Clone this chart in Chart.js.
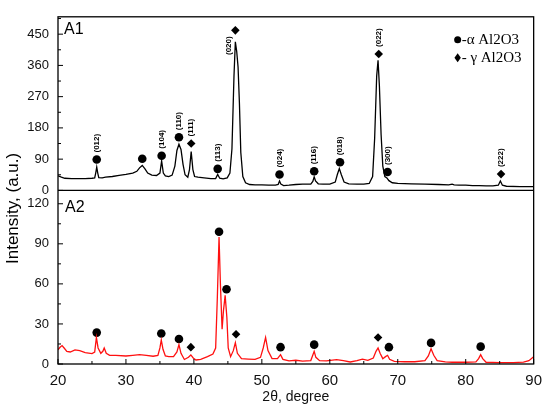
<!DOCTYPE html>
<html>
<head>
<meta charset="utf-8">
<script src="https://cdn.jsdelivr.net/npm/chart.js@4.4.1/dist/chart.umd.min.js"></script>
<style>
  html, body { margin: 0; padding: 0; background: #fff; }
  #wrap { width: 550px; height: 409px; }
</style>
</head>
<body>
<div id="wrap"><canvas id="xrd"></canvas></div>
<script>
// A1 trace (black)
const a1X = [20.0, 20.5, 21.0, 22.0, 23.0, 24.0, 25.0, 25.4, 25.55, 25.7, 25.85, 26.0, 26.5, 27.0, 28.0, 29.0, 30.0, 31.0, 31.6, 32.0,
    32.4, 32.8, 33.2, 33.8, 34.5, 35.0, 35.25, 35.5, 35.8, 36.3, 36.8, 37.2, 37.5, 37.8, 38.1, 38.4, 38.7, 39.1, 39.35, 39.6,
    39.85, 40.1, 40.6, 41.5, 42.5, 43.2, 43.5, 43.8, 44.3, 44.9, 45.3, 45.6, 45.9, 46.1, 46.3, 46.5, 46.7, 46.9, 47.2, 47.6,
    48.2, 49, 50, 51, 52, 52.4, 52.6, 52.8, 53.2, 54, 55, 56, 57.2, 57.5, 57.7, 57.9, 58.3, 59, 60, 60.8,
    61.1, 61.4, 61.7, 62.1, 62.8, 64, 65, 65.8, 66.3, 66.6, 66.9, 67.1, 67.3, 67.55, 67.8, 68.1, 68.4, 68.7, 69.2, 70,
    72, 74, 76, 77.5, 78, 78.3, 79, 80, 81, 82, 83, 84, 84.8, 85.1, 85.4, 86, 88, 90]
const a1Y = [42, 38, 35, 34, 34, 34, 35, 36, 50, 67, 50, 37, 36, 38, 40, 43, 46, 50, 55, 65,
    72, 62, 50, 44, 43, 50, 85, 50, 42, 40, 44, 70, 115, 133, 118, 75, 45, 38, 60, 112,
    60, 40, 38, 36, 34, 34, 46, 35, 33, 36, 50, 120, 330, 428, 400, 355, 250, 110, 40, 22,
    17, 16, 16, 15, 15, 17, 27, 18, 14, 15, 17, 18, 18, 26, 39, 27, 19, 18, 18, 24,
    45, 63, 45, 24, 19, 18, 18, 20, 40, 150, 330, 375, 300, 160, 70, 40, 36, 28, 22, 20,
    19, 18, 17, 16, 18, 16, 15, 15, 14, 14, 13, 13, 15, 27, 15, 12, 11, 11]

// A2 trace (red)
const a2X = [20.0, 20.3, 20.6, 20.9, 21.3, 21.8, 22.5, 23.2, 24, 25, 25.4, 25.65, 25.9, 26.3, 26.6, 26.8, 27.1, 27.6, 28.5, 30,
    31, 32, 33, 34, 34.7, 35.0, 35.2, 35.45, 35.8, 36.3, 37.0, 37.5, 37.8, 38.1, 38.6, 39.2, 39.55, 39.9, 40.3, 41,
    42, 42.8, 43.2, 43.45, 43.7, 43.9, 44.15, 44.35, 44.6, 44.85, 45.05, 45.4, 45.8, 46.1, 46.4, 47, 48, 49, 49.8, 50.2,
    50.55, 50.9, 51.5, 52.3, 52.75, 53.1, 54, 55, 56, 57.2, 57.45, 57.7, 57.95, 58.5, 59.5, 61, 62, 63, 64, 64.8,
    65.6, 66.4, 66.8, 67.1, 67.4, 67.8, 68.2, 68.5, 68.8, 69.5, 71, 72.5, 74, 74.5, 74.9, 75.3, 75.8, 77, 78, 80,
    81.5, 81.9, 82.2, 82.5, 83, 85, 87, 88.5, 89.3, 90]
const a2Y = [10.7, 12.5, 13.8, 12, 9.5, 9, 10.5, 10, 8.5, 7.8, 9, 19.9, 12, 8, 9.5, 12, 8, 6.5, 6.5, 6,
    6.5, 7, 6.5, 5.8, 6.5, 12, 18, 11, 6, 5.5, 5.5, 9, 14.5, 8, 3.4, 5, 6.8, 4.5, 3, 3.5,
    5.5, 7.5, 12, 50, 95, 60, 26, 40, 51.4, 35, 12, 5.5, 10, 16, 8, 4, 3.7, 3.5, 5, 12,
    19.9, 10, 4, 4, 7, 3.5, 2.4, 2.8, 2.2, 2.6, 6, 9.5, 5, 2.5, 2.4, 3.3, 2.5, 1.5, 2.5, 3.7,
    2.8, 4.5, 9.5, 12, 8, 4, 5.5, 6.5, 3.5, 2, 1.7, 1.7, 2.5, 6, 11.4, 6.5, 2.5, 1.6, 1.3, 1.3,
    1.6, 4, 7, 4, 1.3, 1.1, 1, 1.4, 2.5, 5.5]

// phase markers: 'a' = alpha Al2O3 (circle), 'g' = gamma Al2O3 (diamond)
const a1MarkX = [25.7, 32.4, 35.25, 37.8, 39.6, 43.5, 46.1, 52.6, 57.7, 61.5, 67.2, 68.5, 85.2]
const a1MarkY = [89, 91, 100, 153, 135, 62, 461, 46, 55, 81, 393, 53, 47]
const a1Phase = ['a', 'a', 'a', 'a', 'g', 'a', 'g', 'a', 'a', 'a', 'g', 'a', 'g']
const a1Hkl = ['(012)', '', '(104)', '(110)', '(111)', '(113)', '(020)', '(024)', '(116)', '(018)', '(022)', '(300)', '(222)']

const a2MarkX = [25.7, 35.2, 37.8, 39.55, 43.7, 44.8, 46.2, 52.75, 57.7, 67.1, 68.7, 74.9, 82.2]
const a2MarkY = [23.5, 22.8, 18.7, 12.6, 99, 56, 22.3, 12.6, 14.5, 19.9, 12.6, 15.8, 13]
const a2Phase = ['a', 'a', 'a', 'g', 'a', 'a', 'g', 'a', 'a', 'g', 'a', 'a', 'a']

const xTicks = [20, 30, 40, 50, 60, 70, 80, 90]
const topTicks = [0, 90, 180, 270, 360, 450]
const botTicks = [0, 30, 60, 90, 120]
const legendItems = ['-α Al2O3', '- γ Al2O3']

const toPoints = (xs, ys) => xs.map((x, i) => ({ x: x, y: ys[i] }))

function markerSet(xs, ys, phases, want, axis) {
    let pts = []
    xs.forEach((x, i) => {
        if (phases[i] === want) pts.push({ x: x, y: ys[i] })
    })
    return {
        data: pts,
        yAxisID: axis,
        showLine: false,
        pointStyle: want === 'a' ? 'circle' : 'rectRot',
        pointRadius: 4.3,
        pointBackgroundColor: '#000',
        pointBorderColor: '#000',
        pointBorderWidth: 0
    }
}

const tickFont = { family: 'Liberation Sans, Arial, sans-serif', size: 13 }

// frame, inward ticks, peak labels, legend and y title
const decor = {
    id: 'decor',
    afterDatasetsDraw(chart) {
        const ctx = chart.ctx
        const xs = chart.scales.x
        const yt = chart.scales.yTop
        const yb = chart.scales.yBot
        const area = chart.chartArea
        ctx.save()
        ctx.strokeStyle = '#000'
        ctx.lineWidth = 1.3
        ctx.strokeRect(area.left, area.top, area.right - area.left, area.bottom - area.top)
        ctx.beginPath()
        ctx.moveTo(area.left, yt.bottom)
        ctx.lineTo(area.right, yt.bottom)
        ctx.stroke()

        ctx.lineWidth = 1
        const drawY = (scale, vals) => {
            const step = vals[1] - vals[0]
            vals.forEach(v => {
                let p = scale.getPixelForValue(v)
                ctx.beginPath(); ctx.moveTo(area.left, p); ctx.lineTo(area.left + 5, p); ctx.stroke()
                let m = v + step / 2
                if (m < scale.max) {
                    p = scale.getPixelForValue(m)
                    ctx.beginPath(); ctx.moveTo(area.left, p); ctx.lineTo(area.left + 3, p); ctx.stroke()
                }
            })
        }
        drawY(yt, topTicks)
        drawY(yb, botTicks)
        const xstep = xTicks[1] - xTicks[0]
        xTicks.forEach(v => {
            let p = xs.getPixelForValue(v)
            ctx.beginPath(); ctx.moveTo(p, area.bottom); ctx.lineTo(p, area.bottom - 5); ctx.stroke()
            let m = v + xstep / 2
            if (m < xs.max) {
                p = xs.getPixelForValue(m)
                ctx.beginPath(); ctx.moveTo(p, area.bottom); ctx.lineTo(p, area.bottom - 3); ctx.stroke()
            }
        })

        // hkl labels above the A1 markers
        ctx.fillStyle = '#000'
        ctx.font = 'bold 8px Liberation Sans, Arial, sans-serif'
        ctx.textBaseline = 'middle'
        a1Hkl.forEach((t, i) => {
            if (!t) return
            const px = xs.getPixelForValue(a1MarkX[i])
            const py = yt.getPixelForValue(a1MarkY[i])
            const w = ctx.measureText(t).width
            ctx.save()
            if (py - 7 - w < area.top) {
                ctx.translate(px - 7, py + 6)
                ctx.rotate(-Math.PI / 2)
                ctx.textAlign = 'right'
            } else {
                ctx.translate(px, py - 7)
                ctx.rotate(-Math.PI / 2)
                ctx.textAlign = 'left'
            }
            ctx.fillText(t, 0, 0)
            ctx.restore()
        })

        // panel names
        ctx.font = '16px Liberation Sans, Arial, sans-serif'
        ctx.textAlign = 'left'
        ctx.textBaseline = 'top'
        ctx.fillText('A1', area.left + 6, yt.top + 5)
        ctx.fillText('A2', area.left + 7, yb.top + 9)

        // legend
        ctx.font = '15px Liberation Serif, Times New Roman, serif'
        ctx.textBaseline = 'middle'
        const lx = area.right - 76
        legendItems.forEach((t, i) => {
            const ly = area.top + 23 + i * 18
            ctx.beginPath()
            if (i === 0) {
                ctx.arc(lx, ly, 3.5, 0, Math.PI * 2)
            } else {
                ctx.moveTo(lx, ly - 4.5); ctx.lineTo(lx + 3.2, ly); ctx.lineTo(lx, ly + 4.5); ctx.lineTo(lx - 3.2, ly); ctx.closePath()
            }
            ctx.fill()
            ctx.fillText(t, lx + 4, ly)
        })

        // shared y title
        ctx.font = '17px Liberation Sans, Arial, sans-serif'
        ctx.textAlign = 'center'
        ctx.translate(13, (area.top + area.bottom) / 2 + 18)
        ctx.rotate(-Math.PI / 2)
        ctx.fillText('Intensity, (a.u.)', 0, 0)
        ctx.restore()
    }
}

new Chart(document.getElementById('xrd'), {
    type: 'scatter',
    data: {
        datasets: [
            {
                data: toPoints(a1X, a1Y), yAxisID: 'yTop', showLine: true,
                borderColor: '#000', borderWidth: 1.3, pointRadius: 0, tension: 0
            },
            {
                data: toPoints(a2X, a2Y), yAxisID: 'yBot', showLine: true,
                borderColor: '#ff1010', borderWidth: 1.3, pointRadius: 0, tension: 0
            },
            markerSet(a1MarkX, a1MarkY, a1Phase, 'a', 'yTop'),
            markerSet(a1MarkX, a1MarkY, a1Phase, 'g', 'yTop'),
            markerSet(a2MarkX, a2MarkY, a2Phase, 'a', 'yBot'),
            markerSet(a2MarkX, a2MarkY, a2Phase, 'g', 'yBot')
        ]
    },
    options: {
        responsive: true,
        maintainAspectRatio: false,
        animation: false,
        layout: { padding: { top: 7, right: 13, left: 0, bottom: 0 } },
        plugins: { legend: { display: false }, tooltip: { enabled: false } },
        scales: {
            x: {
                type: 'linear', min: 20, max: 90,
                grid: { display: false, drawTicks: false },
                border: { display: false },
                afterBuildTicks: s => { s.ticks = xTicks.map(v => ({ value: v })) },
                afterFit: s => { s.height = 45 },
                ticks: { font: { family: 'Liberation Sans, Arial, sans-serif', size: 15 }, color: '#111', padding: 8, maxRotation: 0 },
                title: {
                    display: true, text: '2θ, degree', color: '#111',
                    font: { family: 'Liberation Sans, Arial, sans-serif', size: 14 },
                    padding: { top: 0, bottom: 3 }
                }
            },
            // the stack is filled from the bottom, so the lower panel comes first
            yBot: {
                type: 'linear', position: 'left', stack: 'panels', stackWeight: 1,
                min: 0, max: 130,
                grid: { display: false, drawTicks: false },
                border: { display: false },
                afterBuildTicks: s => { s.ticks = botTicks.map(v => ({ value: v })) },
                afterFit: s => { s.width = 58 },
                ticks: { font: tickFont, color: '#111', padding: 9 }
            },
            yTop: {
                type: 'linear', position: 'left', stack: 'panels', stackWeight: 1,
                min: 0, max: 500,
                grid: { display: false, drawTicks: false },
                border: { display: false },
                afterBuildTicks: s => { s.ticks = topTicks.map(v => ({ value: v })) },
                afterFit: s => { s.width = 58 },
                ticks: { font: tickFont, color: '#111', padding: 9 }
            }
        }
    },
    plugins: [decor]
});
</script>
</body>
</html>
